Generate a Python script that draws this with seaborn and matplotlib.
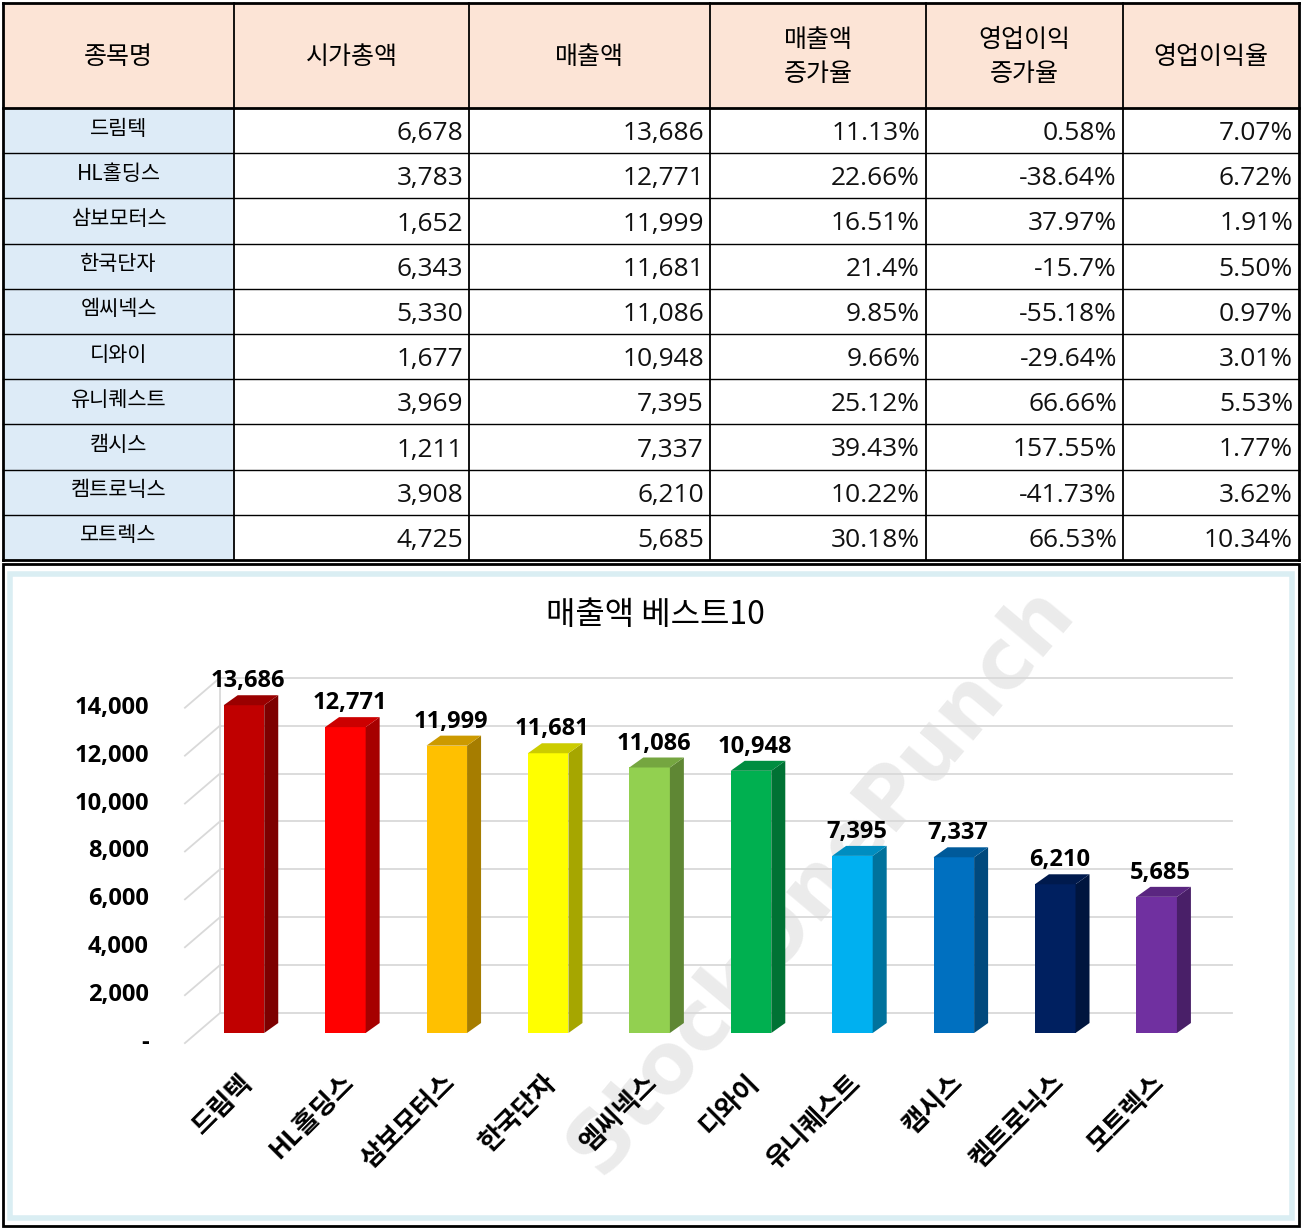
import matplotlib
matplotlib.use("Agg")
import matplotlib.pyplot as plt
import matplotlib.colors as mc
from matplotlib.patches import Rectangle, Polygon
import seaborn as sns
import pandas as pd
import numpy as np

KFONT = ["Noto Sans CJK KR", "Noto Sans CJK JP", "Noto Sans CJK SC", "DejaVu Sans"]
plt.rcParams["font.family"] = KFONT

names = ["드림텍", "HL홀딩스", "삼보모터스", "한국단자", "엠씨넥스", "디와이", "유니퀘스트", "캠시스", "켐트로닉스", "모트렉스"]
mcap = [6678, 3783, 1652, 6343, 5330, 1677, 3969, 1211, 3908, 4725]
sales = [13686, 12771, 11999, 11681, 11086, 10948, 7395, 7337, 6210, 5685]
sales_g = ["11.13%", "22.66%", "16.51%", "21.4%", "9.85%", "9.66%", "25.12%", "39.43%", "10.22%", "30.18%"]
op_g = ["0.58%", "-38.64%", "37.97%", "-15.7%", "-55.18%", "-29.64%", "66.66%", "157.55%", "-41.73%", "66.53%"]
op_m = ["7.07%", "6.72%", "1.91%", "5.50%", "0.97%", "3.01%", "5.53%", "1.77%", "3.62%", "10.34%"]
headers = ["종목명", "시가총액", "매출액", "매출액\n증가율", "영업이익\n증가율", "영업이익율"]
yticks = [0, 2000, 4000, 6000, 8000, 10000, 12000, 14000]
colors = ['#C00000', '#FF0000', '#FFC000', '#FFFF00', '#92D050', '#00B050', '#00B0F0', '#0070C0', '#002060', '#7030A0']

W, H = 1304, 1229
fig = plt.figure(figsize=(W/100, H/100), dpi=100)
bg = fig.add_axes([0, 0, 1, 1])
bg.set_xlim(0, W); bg.set_ylim(H, 0); bg.axis("off")

# ---- table ----
xs = [3, 234, 469, 710, 926, 1123, 1299]
ys = [3, 108] + [108 + 45.2*(i+1) for i in range(10)]
bg.add_patch(Rectangle((3, 3), 1296, 105, fc="#FCE4D6", ec="none"))
bg.add_patch(Rectangle((3, 108), 231, ys[-1]-108, fc="#DDEBF7", ec="none"))
for x in xs:
    bg.plot([x, x], [3, ys[-1]], color="black", lw=2 if x in (3, 1299) else 1.3)
for i, y in enumerate(ys):
    bg.plot([3, 1299], [y, y], color="black", lw=2 if i in (0, 1, len(ys)-1) else 1)
for j, h in enumerate(headers):
    bg.text((xs[j]+xs[j+1])/2, 57, h, ha="center", va="center", fontsize=18, linespacing=1.4)
for i in range(10):
    yc = ys[i+1] + 22.6
    bg.text((xs[0]+xs[1])/2, yc - 2, names[i], ha="center", va="center", fontsize=15)
    vals = [f"{mcap[i]:,}", f"{sales[i]:,}", sales_g[i], op_g[i], op_m[i]]
    for j, v in enumerate(vals):
        bg.text(xs[j+2]-6, yc+3, v, ha="right", va="center", fontsize=19, family="Open Sans", color="#111111")

# ---- chart frame ----
bg.add_patch(Rectangle((3, 564), 1296, 662, fc="white", ec="black", lw=2))
bg.add_patch(Rectangle((10, 574), 1282, 644, fc="none", ec="#DAEEF3", lw=4))
bg.text(655, 615, "매출액 베스트10", ha="center", va="center", fontsize=23)

# ---- bars ----
px_per = 0.02395
ymin, ymax = -1200, 16409
left, right = 160, 1240
bottom = 1033 + (-ymin)*px_per
top = 1033 - ymax*px_per
ax = fig.add_axes([left/W, 1-bottom/H, (right-left)/W, (bottom-top)/H])
ax.set_zorder(2); ax.patch.set_alpha(0)
df = pd.DataFrame({"name": names, "sales": sales})
sns.barplot(data=df, x="name", y="sales", hue="name", palette=colors, width=0.4, ax=ax, legend=False, saturation=1, zorder=3)
ax.set_xlim(-0.828, 9.822); ax.set_ylim(ymin, ymax)
ax.axis("off")

dx, dy = 0.138, 417
gdx, gdy = 0.345, 1253
for v in yticks:
    ax.plot([-0.582, -0.582+gdx], [v-420, v-420+gdy], color="#D9D9D9", lw=1.3, zorder=1)
    ax.plot([-0.582+gdx, 9.74], [v-420+gdy, v-420+gdy], color="#D9D9D9", lw=1.3, zorder=1)
    ax.text(-0.94, v-420, f"{v:,}" if v else "-", ha="right", va="center", fontsize=17, fontweight="bold", family="Open Sans")
ax.plot([-0.582+gdx, -0.582+gdx], [-420+gdy, 14000-420+gdy], color="#D9D9D9", lw=1.3, zorder=1)

for p, c, v, n in zip(ax.patches, colors, sales, names):
    x0, w, h = p.get_x(), p.get_width(), p.get_height()
    rgb = np.array(mc.to_rgb(c))
    ax.add_patch(Polygon([(x0+w, 0), (x0+w+dx, dy), (x0+w+dx, h+dy), (x0+w, h)], fc=rgb*0.65, ec="none", zorder=3))
    ax.add_patch(Polygon([(x0, h), (x0+dx, h+dy), (x0+w+dx, h+dy), (x0+w, h)], fc=rgb*0.8, ec="none", zorder=3))
    ax.text(x0+w/2+0.04, h+500, f"{v:,}", ha="center", va="bottom", fontsize=17, fontweight="bold", family="Open Sans", zorder=4)
    ax.text(x0+w/2-0.05, -1500, n, ha="right", va="top", rotation=45, rotation_mode="anchor", fontsize=19, fontweight="bold", zorder=4)

bg.text(820, 880, "StockOnePunch", ha="center", va="center", rotation=50, fontsize=60, fontweight="bold",
        color="#BFBFBF", alpha=0.3, family="DejaVu Sans", zorder=10)

fig.savefig("out.png", dpi=100)
